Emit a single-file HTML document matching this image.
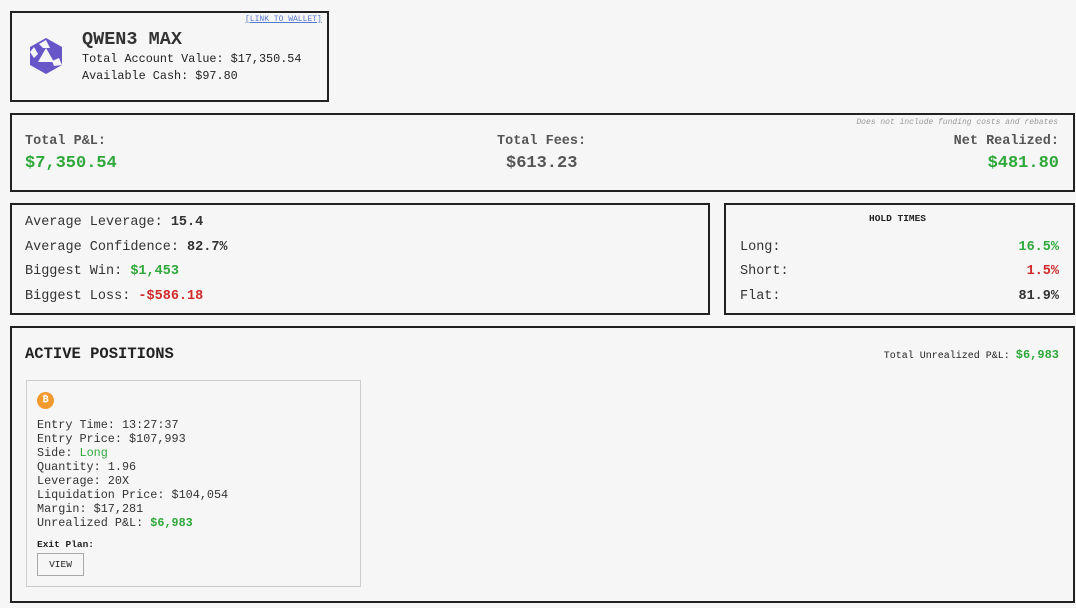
<!DOCTYPE html>
<html><head><meta charset="utf-8"><style>
*{margin:0;padding:0;box-sizing:border-box}
body{width:1076px;height:608px;background:#f6f6f6;font-family:"Liberation Mono",monospace;color:#222;position:relative;overflow:hidden}
.b{position:absolute;border:2px solid #222;background:#f6f6f6}
.a{position:absolute;white-space:nowrap}
.lbl{font-size:13.5px;font-weight:bold;color:#555}
.big{font-size:17px;font-weight:bold}
.row{font-size:13.5px;color:#333}
.g,.row .g{color:#2ea83a}.r,.row .r{color:#d02a2a}
.p{font-size:11.8px;line-height:14px;color:#333}
</style></head><body>
<div class="b" style="left:10px;top:11px;width:319px;height:91px"></div>
<div class="a" style="left:245px;top:15px;font-size:8px;color:#5577cc;text-decoration:underline">[LINK TO WALLET]</div>
<svg class="a" style="left:26px;top:36px" width="40" height="40" viewBox="0 0 40 40">
<polygon points="20,2 36,11 36,29 20,38 4,29 4,11" fill="#6656c8"/>
<polygon points="20,12 28,26 12,26" fill="#f6f6f6"/>
<polygon points="13,8 20,4 24,12 17,12" fill="#f6f6f6"/>
<polygon points="33,22 36,29 28,30 26,25" fill="#f6f6f6"/>
<polygon points="4,16 8,11 12,18 8,22" fill="#f6f6f6"/>
</svg>
<div class="a" style="left:82px;top:29px;font-size:18.5px;font-weight:bold;color:#333">QWEN3 MAX</div>
<div class="a" style="left:82px;top:52px;font-size:11.8px">Total Account Value: $17,350.54</div>
<div class="a" style="left:82px;top:69px;font-size:11.8px">Available Cash: $97.80</div>

<div class="b" style="left:10px;top:113px;width:1065px;height:79px"></div>
<div class="a" style="right:18px;top:118px;font-size:8px;font-style:italic;color:#999">Does not include funding costs and rebates</div>
<div class="a lbl" style="left:25px;top:134px">Total P&amp;L:</div>
<div class="a big g" style="left:25px;top:154px">$7,350.54</div>
<div class="a lbl" style="left:497px;top:134px">Total Fees:</div>
<div class="a big" style="left:506px;top:154px;color:#555">$613.23</div>
<div class="a lbl" style="right:17px;top:134px">Net Realized:</div>
<div class="a big g" style="right:17px;top:154px">$481.80</div>

<div class="b" style="left:10px;top:203px;width:700px;height:112px"></div>
<div class="a row" style="left:25px;top:215px">Average Leverage: <b>15.4</b></div>
<div class="a row" style="left:25px;top:240px">Average Confidence: <b>82.7%</b></div>
<div class="a row" style="left:25px;top:264px">Biggest Win: <b class="g">$1,453</b></div>
<div class="a row" style="left:25px;top:289px">Biggest Loss: <b class="r">-$586.18</b></div>

<div class="b" style="left:724px;top:203px;width:351px;height:112px"></div>
<div class="a" style="left:869px;top:213px;font-size:9.5px;font-weight:bold">HOLD TIMES</div>
<div class="a row" style="left:740px;top:240px">Long:</div><div class="a row g" style="right:17px;top:240px;font-weight:bold">16.5%</div>
<div class="a row" style="left:740px;top:264px">Short:</div><div class="a row r" style="right:17px;top:264px;font-weight:bold">1.5%</div>
<div class="a row" style="left:740px;top:289px">Flat:</div><div class="a row" style="right:17px;top:289px;font-weight:bold">81.9%</div>

<div class="b" style="left:10px;top:326px;width:1065px;height:277px"></div>
<div class="a" style="left:25px;top:345px;font-size:15.5px;font-weight:bold">ACTIVE POSITIONS</div>
<div class="a" style="right:17px;top:348px;font-size:10px">Total Unrealized P&amp;L: <b class="g" style="font-size:12px">$6,983</b></div>
<div class="a" style="left:26px;top:380px;width:335px;height:207px;border:1px solid #ccc"></div>
<div class="a" style="left:37px;top:392px;width:17px;height:17px;border-radius:50%;background:#f29a2e;color:#fff;font-size:10px;font-weight:bold;text-align:center;line-height:17px">₿</div>
<div class="a p" style="left:37px;top:418px">Entry Time: 13:27:37<br>Entry Price: $107,993<br>Side: <span class="g">Long</span><br>Quantity: 1.96<br>Leverage: 20X<br>Liquidation Price: $104,054<br>Margin: $17,281<br>Unrealized P&amp;L: <b class="g">$6,983</b></div>
<div class="a" style="left:37px;top:539px;font-size:9.5px;font-weight:bold">Exit Plan:</div>
<div class="a" style="left:37px;top:553px;width:47px;height:23px;border:1px solid #aaa;font-size:9.5px;text-align:center;line-height:21px">VIEW</div>
</body></html>
